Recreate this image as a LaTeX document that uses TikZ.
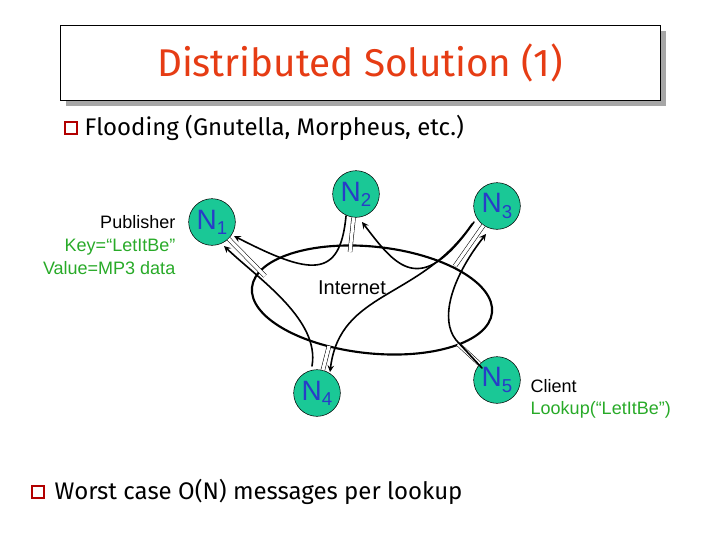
\documentclass[tikz,border=0pt]{standalone}
\usepackage{fontspec}
\setmainfont{Liberation Sans}
\newfontfamily\comicf{Fira Sans}
\usetikzlibrary{arrows,positioning,shapes.geometric}
\definecolor{peer}{RGB}{26,200,150}
\definecolor{peertext}{RGB}{40,60,200}
\definecolor{titlered}{RGB}{230,60,20}
\definecolor{keygreen}{RGB}{40,170,40}
\begin{document}
\begin{tikzpicture}[x=0.75pt,y=-0.75pt]
\tikzset{peer node/.style={circle,draw=black,fill=peer,minimum size=35pt,inner sep=0pt,text=peertext,font=\fontsize{21}{21}\selectfont}, }
\tikzset{testo/.style={font=\fontsize{13.5}{17}\selectfont,align=left}, }
\tikzset{punto/.style={font=\comicf\fontsize{18}{22}\selectfont,anchor=west}, }
\tikzset{casella/.style={draw=red!70!black,thick,minimum size=9pt,inner sep=0pt}, }
\tikzset{linea/.style={-stealth,very thick,line cap=round}, }
\tikzset{filo/.style={double,double distance=2.5pt,thin}, }
\newcommand{\nodo}[1]{N\raisebox{-0.35ex}{\fontsize{14}{14}\selectfont #1}}
\useasboundingbox (0,0) rectangle (720,540);
% titolo
\fill[gray!70] (66,31) rectangle (666,106);
\node[draw,fill=white,minimum width=450pt,minimum height=56.25pt] (titolo) at (360,63) {};
\node[text=titlered,font=\comicf\fontsize{29}{29}\selectfont] at (titolo) {Distributed Solution (1)};
% punti
\node[casella] (b1) at (71,128) {};
\node[punto] (t1) at (80,128) {Flooding (Gnutella, Morpheus, etc.)};
\node[casella] (b2) at (38,492) {};
\node[punto] (t2) at (50,492) {Worst case O(N) messages per lookup};
% rete
\node[draw,ellipse,line width=1.6pt,minimum width=181pt,minimum height=80pt,rotate=-6] (net) at (372,300) {};
\node[font=\fontsize{15}{15}\selectfont] (inet) at (352,288) {Internet};
\node[peer node] (n1) at (212,222) {\nodo{1}};
\node[peer node] (n2) at (356,194) {\nodo{2}};
\node[peer node] (n3) at (497,206) {\nodo{3}};
\node[peer node] (n4) at (317,393) {\nodo{4}};
\node[peer node] (n5) at (497,380) {\nodo{5}};
% collegamenti
\draw[filo] (n1) -- (265,276);
\draw[filo] (n2) -- (350,252);
\draw[filo] (n3) -- (455,266);
\draw[filo] (n4) -- (329,346);
\draw[filo] (n5) -- (458,344);
% messaggi
\draw[linea] (346,216) .. controls (340,280) and (310,275) .. (234,236);
\draw[linea] (474,222) .. controls (420,300) and (395,265) .. (362,222);
\draw[linea] (472,224) .. controls (420,300) and (340,290) .. (330,372);
\draw[linea] (312,366) .. controls (320,320) and (260,280) .. (224,246);
\draw[linea] (482,368) -- (456,340) .. controls (440,320) and (450,280) .. (486,234);
% etichette
\node[testo,align=right,anchor=east] (pub) at (180,245) {Publisher\\\textcolor{keygreen}{Key=“LetItBe”}\\\textcolor{keygreen}{Value=MP3 data}};
\node[testo,anchor=west] (cli) at (526,399) {Client\\\textcolor{keygreen}{Lookup(“LetItBe”)}};
\end{tikzpicture}
\end{document}
